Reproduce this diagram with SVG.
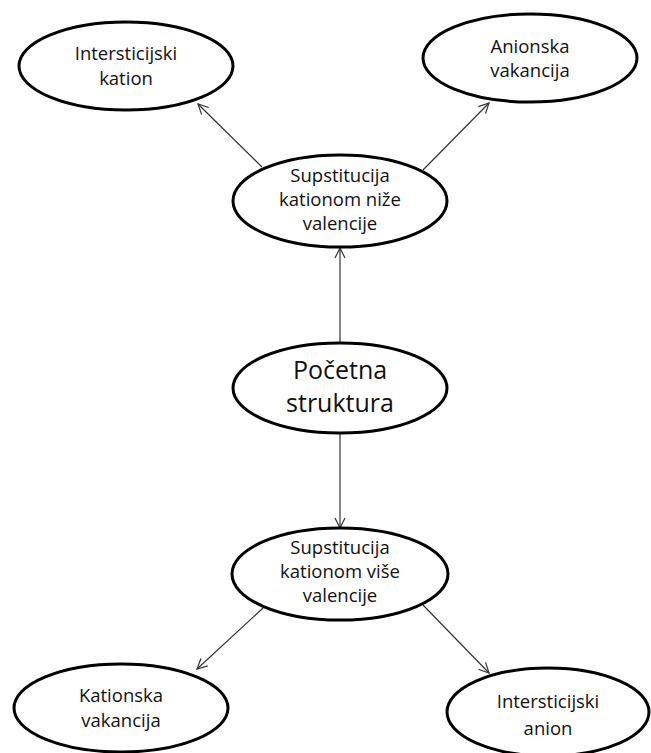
<svg xmlns="http://www.w3.org/2000/svg" width="651" height="753" viewBox="0 0 651 753">
<style>
.n{fill:#fff;stroke:#000;stroke-width:3}
.t{font-family:"Open Sans","Liberation Sans",sans-serif;font-size:18.5px;fill:#111;text-anchor:middle}
.b{font-size:25px}
.c{stroke:#333;stroke-width:1.2;fill:none;marker-end:url(#a)}
</style>
<defs>
<marker id="a" viewBox="0 0 12 12" refX="11" refY="6" markerWidth="12" markerHeight="12" markerUnits="userSpaceOnUse" orient="auto">
<path d="M1,1 L11,6 L1,11" fill="none" stroke="#333" stroke-width="1.2"/>
</marker>
</defs>
<rect width="651" height="753" fill="#fff"/>
<g id="connectors">
<line class="c" x1="262" y1="167" x2="198" y2="104"/>
<line class="c" x1="423" y1="170" x2="489" y2="103"/>
<line class="c" x1="340" y1="342" x2="340" y2="248"/>
<line class="c" x1="340" y1="433" x2="340" y2="528"/>
<line class="c" x1="263" y1="608" x2="197" y2="669"/>
<line class="c" x1="423" y1="605" x2="489" y2="673"/>
</g>
<g id="n1"><ellipse class="n" cx="126" cy="66" rx="107" ry="44"/>
<text class="t" x="126" y="60">Intersticijski</text><text class="t" x="126" y="85">kation</text></g>
<g id="n2"><ellipse class="n" cx="530" cy="58" rx="107" ry="44"/>
<text class="t" x="530" y="53">Anionska</text><text class="t" x="530" y="77">vakancija</text></g>
<g id="n3"><ellipse class="n" cx="340" cy="201" rx="107" ry="46"/>
<text class="t" x="340" y="182">Supstitucija</text><text class="t" x="340" y="206">kationom niže</text><text class="t" x="340" y="230">valencije</text></g>
<g id="n4"><ellipse class="n" cx="340" cy="388" rx="107" ry="45"/>
<text class="t b" x="340" y="379">Početna</text><text class="t b" x="340" y="412">struktura</text></g>
<g id="n5"><ellipse class="n" cx="340" cy="574" rx="108" ry="46"/>
<text class="t" x="340" y="554">Supstitucija</text><text class="t" x="340" y="578">kationom više</text><text class="t" x="340" y="602">valencije</text></g>
<g id="n6"><ellipse class="n" cx="121" cy="708" rx="107" ry="44"/>
<text class="t" x="121" y="702">Kationska</text><text class="t" x="121" y="727">vakancija</text></g>
<g id="n7"><ellipse class="n" cx="548" cy="712" rx="101" ry="44"/>
<text class="t" x="548" y="708">Intersticijski</text><text class="t" x="548" y="735">anion</text></g>
</svg>
